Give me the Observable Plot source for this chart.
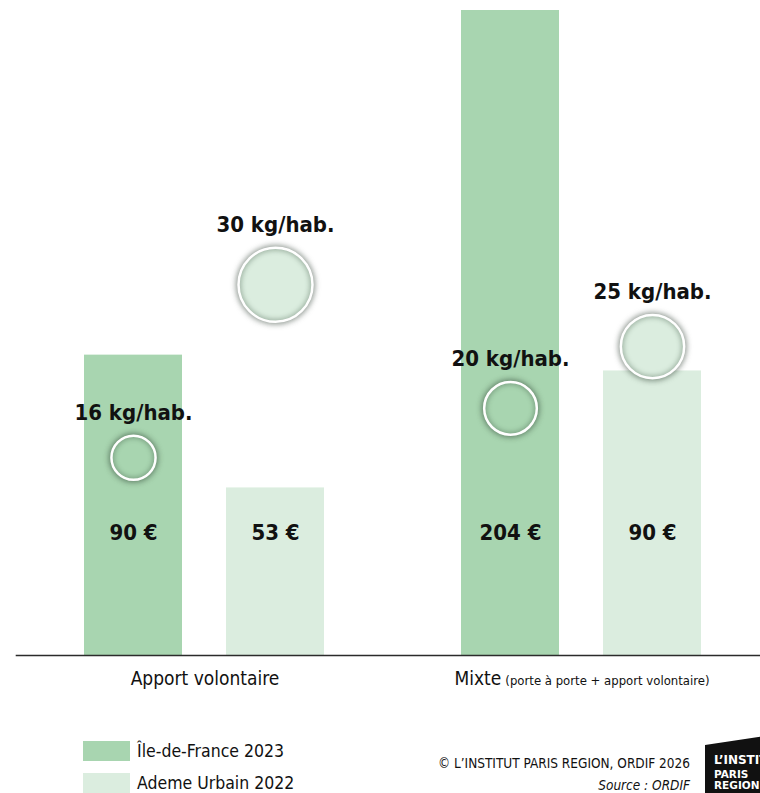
<!DOCTYPE html>
<html>
<head>
<meta charset="utf-8">
<script src="https://cdn.jsdelivr.net/npm/d3@7"></script>
<script src="https://cdn.jsdelivr.net/npm/@observablehq/plot@0.6"></script>
<style>
  html, body { margin: 0; padding: 0; background: #fff; }
  body { width: 760px; height: 793px; overflow: hidden; position: relative;
         font-family: "Liberation Sans Narrow", "DejaVu Sans Condensed", "Arial Narrow", sans-serif; color: #111; }
  #chart { position: absolute; left: 0; top: 0; }
  .legend-item { position: absolute; left: 83px; height: 20px; display: flex; align-items: center; font-size: 17.5px; line-height: 20px; }
  .swatch { width: 47px; height: 20px; margin-right: 7px; }
  .credit { position: absolute; right: 70px; font-size: 13.5px; line-height: 16px; text-align: right; white-space: nowrap; }
  #logo { position: absolute; left: 705px; top: 736px; width: 60px; height: 57px; background: #111;
          clip-path: polygon(0 9px, 100% 0, 100% 100%, 0 100%); color: #fff; font-family: "DejaVu Sans", sans-serif;
          font-weight: bold; font-size: 10.5px; line-height: 12px; overflow: hidden; white-space: nowrap; }
  #logo div { position: absolute; left: 9px; }
</style>
</head>
<body>
<div id="chart"></div>
<div id="legend"></div>
<div class="credit" style="top:755px;">© L’INSTITUT PARIS REGION, ORDIF 2026</div>
<div class="credit" style="top:777px;font-style:italic;">Source : ORDIF</div>
<div id="logo"><div style="top:18px;font-size:12px;">L’INSTITUT</div><div style="top:32px;">PARIS</div><div style="top:43px;">REGION</div></div>
<script>
// ---- Data ----
const categories = ["Apport volontaire", "Mixte"];
const categorySubtitles = ["", "(porte à porte + apport volontaire)"];
const series = ["Île-de-France 2023", "Ademe Urbain 2022"];
const seriesColors = ["#a8d5b0", "#dbeddf"];
// cost per inhabitant (€), bar heights as drawn
const costIdf = [95, 204];
const costAdeme = [53, 90];
// printed cost labels
const costLabelsIdf = ["90 €", "204 €"];
const costLabelsAdeme = ["53 €", "90 €"];
// collected quantity (kg/hab.)
const kgIdf = [16, 20];
const kgAdeme = [30, 25];
const kgAxisMax = 52.2;   // kg/hab. at the top of the frame (secondary scale)
const costAxisMax = 204;  // € at the top of the frame

const rows = [];
categories.forEach((c, i) => {
  rows.push({cat: c, series: series[0], cost: costIdf[i], label: costLabelsIdf[i], kg: kgIdf[i]});
  rows.push({cat: c, series: series[1], cost: costAdeme[i], label: costLabelsAdeme[i], kg: kgAdeme[i]});
});
const kgToCost = d => d.kg * costAxisMax / kgAxisMax;

const FONT = '"Liberation Sans Narrow", "DejaVu Sans Condensed", "Arial Narrow", sans-serif';

const plot = Plot.plot({
  width: 760,
  height: 700,
  marginTop: 10,
  marginBottom: 45,
  marginLeft: 15,
  marginRight: 0,
  style: {fontFamily: FONT, color: "#111", background: "transparent"},
  fx: {domain: categories, paddingInner: 0.127, paddingOuter: 0.049, align: 0.635, label: null},
  x: {domain: series, padding: 0.308, axis: null},
  y: {domain: [0, costAxisMax], axis: null},
  color: {domain: series, range: seriesColors},
  r: {type: "linear", domain: [0, 30], range: [5, 37]},
  marks: [
    Plot.barY(rows, {fx: "cat", x: "series", y: "cost", fill: "series"}),
    Plot.frame({anchor: "bottom", facet: "super", stroke: "#2b2b2b", strokeWidth: 1.6,
      insetLeft: -24, insetRight: -14}),
    Plot.text(rows, {fx: "cat", x: "series", frameAnchor: "bottom", dy: -123, text: "label",
      fontSize: 22, fontWeight: "bold", fill: "#111", lineAnchor: "middle"}),
    // circles: fill, soft shadow ring, white outline
    Plot.dot(rows, {fx: "cat", x: "series", y: kgToCost, r: "kg", fill: "series", stroke: "none",
      imageFilter: "drop-shadow(0 0 4px rgba(0,0,0,0.35))"}),
    Plot.dot(rows, {fx: "cat", x: "series", y: kgToCost, r: "kg", fill: "none", stroke: "#1f3a25",
      strokeOpacity: 0.35, strokeWidth: 5, imageFilter: "blur(2.5px)"}),
    Plot.dot(rows, {fx: "cat", x: "series", y: kgToCost, r: "kg", fill: "none", stroke: "#fff", strokeWidth: 2.5}),
    Plot.text(rows, {fx: "cat", x: "series", y: kgToCost, text: d => `${d.kg} kg/hab.`,
      fontSize: 22, fontWeight: "bold", fill: "#111", lineAnchor: "middle",
      render(index, scales, values, dimensions, context, next) {
        const y = Float64Array.from(values.y, (v, i) => v - scales.r(rows[i].kg) - 23);
        return next(index, scales, {...values, y}, dimensions, context);
      }}),
    Plot.axisFx({anchor: "bottom", tickSize: 0, tickPadding: 16, fontSize: 19, label: null})
  ]
});
document.getElementById("chart").appendChild(plot);

// add smaller subtitle after the category name
d3.select(plot).selectAll("text").each(function() {
  const idx = categories.indexOf(this.textContent);
  if (idx >= 0 && categorySubtitles[idx]) {
    d3.select(this).append("tspan").attr("font-size", 13).attr("dx", 4).text(categorySubtitles[idx]);
  }
});

// legend
const legend = document.getElementById("legend");
series.forEach((s, i) => {
  const item = document.createElement("div");
  item.className = "legend-item";
  item.style.top = (741 + i * 32) + "px";
  item.innerHTML = `<div class="swatch" style="background:${seriesColors[i]}"></div><span>${s}</span>`;
  legend.appendChild(item);
});
</script>
</body>
</html>
